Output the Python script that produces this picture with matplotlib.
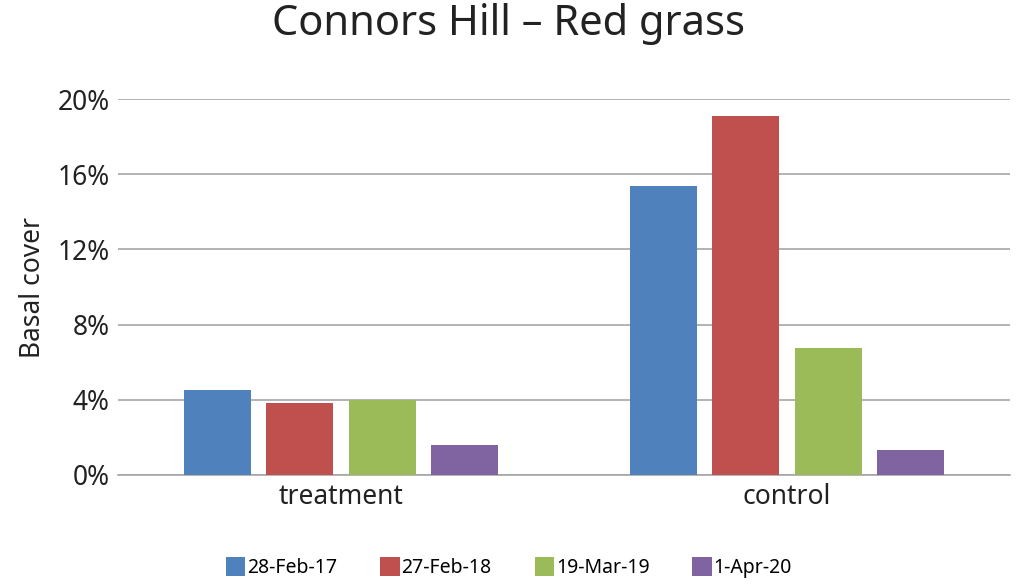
import numpy as np
import matplotlib.pyplot as plt
from matplotlib.ticker import PercentFormatter

plt.rcParams['font.family'] = ['Noto Sans', 'DejaVu Sans']

groups = ['treatment', 'control']
dates = ['28-Feb-17', '27-Feb-18', '19-Mar-19', '1-Apr-20']
values = [
    [4.5, 15.4],
    [3.85, 19.1],
    [4.0, 6.75],
    [1.6, 1.3],
]
colors = ['#4f81bd', '#c0504d', '#9bbb59', '#8064a2']

fig = plt.figure(figsize=(10.18, 5.87), dpi=100)
ax = fig.add_axes([0.116, 0.191, 0.876, 0.64])

x = np.arange(len(groups))
slot = 0.185
for i, (d, v, c) in enumerate(zip(dates, values, colors)):
    ax.bar(x + (i - 1.5) * slot, v, width=slot * 0.81, color=c, label=d, zorder=3)

ax.set_xlim(-0.5, 1.5)
ax.set_ylim(0, 20)
ax.set_yticks(np.arange(0, 21, 4))
ax.yaxis.set_major_formatter(PercentFormatter(decimals=0))
ax.set_xticks(x)
ax.set_xticklabels(groups)
ax.tick_params(axis='both', length=0, labelsize=19, pad=6, colors='#222222')
ax.grid(axis='y', color='#a6a6a6', linewidth=1.2, zorder=0)
for s in ['top', 'right', 'left']:
    ax.spines[s].set_visible(False)
ax.spines['bottom'].set_color('#a6a6a6')
ax.spines['bottom'].set_linewidth(1.2)
ax.set_ylabel('Basal cover', fontsize=19, labelpad=8, color='#222222')
fig.suptitle('Connors Hill – Red grass', fontsize=30, y=0.995, color='#222222')
fig.legend(loc='lower center', ncol=4, frameon=False, fontsize=14,
           bbox_to_anchor=(0.5, -0.015), handlelength=1.0, handleheight=1.1,
           handletextpad=0.1, columnspacing=2.2)

fig.savefig('out.png', dpi=100)
